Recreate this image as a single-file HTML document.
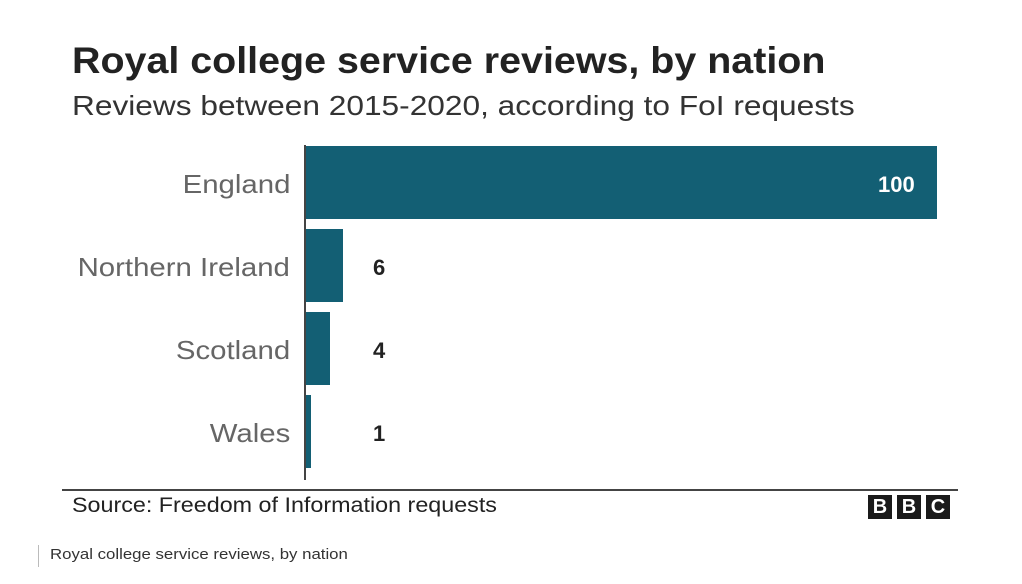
<!DOCTYPE html>
<html><head><style>
body{margin:0;width:1022px;height:584px;background:#fff;font-family:"Liberation Sans",sans-serif;position:relative;overflow:hidden}
.a{position:absolute;white-space:nowrap;transform-origin:0 0}
.bar{position:absolute;background:#135f74}
.lab{position:absolute;right:732px;font-size:26px;color:#666;white-space:nowrap;transform:scaleX(1.13);transform-origin:100% 0}
.val{position:absolute;left:373px;font-size:22px;font-weight:bold;color:#222}
.b{position:absolute;top:495px;width:24px;height:24px;background:#1a1a1a;color:#fff;font-weight:bold;font-size:20px;text-align:center;line-height:24px}
</style></head><body>
<div class="a" style="left:72px;top:40px;font-size:37px;font-weight:bold;color:#222;transform:scaleX(1.065)">Royal college service reviews, by nation</div>
<div class="a" style="left:72px;top:90px;font-size:28px;color:#333;transform:scaleX(1.13)">Reviews between 2015-2020, according to FoI requests</div>
<div style="position:absolute;left:304px;top:145px;width:2px;height:335px;background:#444"></div>
<div class="bar" style="left:306px;top:146px;width:631px;height:73px"></div>
<div class="bar" style="left:306px;top:229px;width:37px;height:73px"></div>
<div class="bar" style="left:306px;top:312px;width:24px;height:73px"></div>
<div class="bar" style="left:306px;top:395px;width:5px;height:73px"></div>
<div class="lab" style="top:169px">England</div>
<div class="lab" style="top:252px">Northern Ireland</div>
<div class="lab" style="top:335px">Scotland</div>
<div class="lab" style="top:418px">Wales</div>
<div class="val" style="left:878px;top:172px;color:#fff">100</div>
<div class="val" style="top:255px">6</div>
<div class="val" style="top:338px">4</div>
<div class="val" style="top:421px">1</div>
<div style="position:absolute;left:62px;top:489px;width:896px;height:2px;background:#444"></div>
<div class="a" style="left:72px;top:494px;font-size:21px;color:#222;transform:scaleX(1.11)">Source: Freedom of Information requests</div>
<div class="b" style="left:868px">B</div>
<div class="b" style="left:897px">B</div>
<div class="b" style="left:926px">C</div>
<div style="position:absolute;left:38px;top:545px;width:1px;height:22px;background:#bbb"></div>
<div class="a" style="left:50px;top:546px;font-size:15px;color:#333;transform:scaleX(1.12)">Royal college service reviews, by nation</div>
</body></html>
